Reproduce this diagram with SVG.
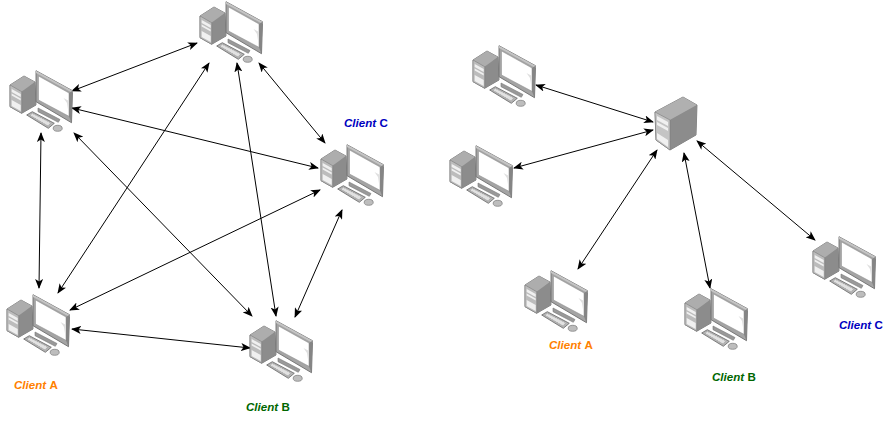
<svg xmlns="http://www.w3.org/2000/svg" width="896" height="424" viewBox="0 0 896 424">
<style>
.c{fill:none;stroke:#000;stroke-width:1;marker-start:url(#a);marker-end:url(#a)}
.l{font:italic bold 11.600px "Liberation Sans",Arial,sans-serif}
.u{font-style:normal}
</style>
<defs>
<marker id="a" viewBox="0 0 10 8" refX="9" refY="4" markerWidth="10" markerHeight="8" markerUnits="userSpaceOnUse" orient="auto-start-reverse"><path d="M0 0L10 4L0 8L2.5 4Z" fill="#000"/></marker>
<g id="pc">
<path d="M-1 16L13 7L24 13L25 36L10.700 44.300L-1 37.700Z" fill="#999" stroke="#6f6f6f" stroke-width=".8"/>
<path d="M-1 16L13 7L24 13L10.700 22.700Z" fill="#adadad"/>
<path d="M10.700 22.700L24 13L25 36L10.700 44.300Z" fill="#8c8c8c"/>
<path d="M-1 16L10.700 22.700V44.300L-1 37.700Z" fill="#bcbcbc" stroke="#777" stroke-width=".5"/>
<path d="M.7 20L9.700 25V28L.7 23ZM.7 24.500L9.700 29.500V31.500L.7 26.500ZM.7 31L9.700 36V42L.7 37Z" fill="#f0f0f0"/>
<path d="M27 39L49 50.500L47.300 53.300L27 42.700Z" fill="#999" stroke="#777" stroke-width=".6"/>
<path d="M25 1.700L61.500 21.700L60.500 53.700L25 32.700Z" fill="#a4a4a4" stroke="#6f6f6f" stroke-width=".9"/>
<path d="M25 1.700L61.500 21.700V24L25 4Z" fill="#c4c4c4"/>
<path d="M58 24L61.500 21.700L60.500 53.700L58 47.500Z" fill="#858585"/>
<path d="M27.500 7L58 24V47.300L27.500 31Z" fill="#fff" stroke="#8a8a8a" stroke-width=".5"/>
<path d="M52.500 29L58 32V47L56 34Z" fill="#e0e0e0"/>
<path d="M15.700 46L21.300 42.700L43.300 54.300L37.300 59.300Z" fill="#b4b4b4" stroke="#666" stroke-width=".8"/>
<path d="M18.500 46L21.500 44.500L40 54L36.800 56.800Z" fill="#e2e2e2" stroke="#7a7a7a" stroke-width=".5" stroke-dasharray="1 1"/>
<ellipse cx="46.700" cy="59.300" rx="4.500" ry="3" fill="#bdbdbd" stroke="#777" stroke-width=".7"/>
</g>
</defs>
<rect width="896" height="424" fill="#fff"/>
<g id="connectors">
<path class="c" d="M72 91L197 43"/>
<path class="c" d="M72 108L318 168"/>
<path class="c" d="M74 133L252 316"/>
<path class="c" d="M41 133L39 288"/>
<path class="c" d="M209 63L58 293"/>
<path class="c" d="M237 63L276 316"/>
<path class="c" d="M259 63L325 143"/>
<path class="c" d="M320 190L70 310"/>
<path class="c" d="M342 210L295 317"/>
<path class="c" d="M72 329L250 348"/>
<path class="c" d="M536 85L653 122"/>
<path class="c" d="M514 168L653 130"/>
<path class="c" d="M657 150L578 269"/>
<path class="c" d="M684 153L710 288"/>
<path class="c" d="M697 141L815 240"/>
</g>
<g id="pc-top"><use href="#pc" x="201" y="0"/></g>
<g id="pc-left"><use href="#pc" x="11" y="69"/></g>
<g id="pc-c"><use href="#pc" x="322" y="143"/></g>
<g id="pc-a"><use href="#pc" x="8" y="293"/></g>
<g id="pc-b"><use href="#pc" x="251" y="319"/></g>
<g id="client-1"><use href="#pc" x="474" y="44"/></g>
<g id="client-2"><use href="#pc" x="451" y="144"/></g>
<g id="client-a"><use href="#pc" x="526" y="269"/></g>
<g id="client-b"><use href="#pc" x="686" y="287"/></g>
<g id="client-c"><use href="#pc" x="814" y="235"/></g>
<g id="server">
<path d="M655 112L683 97L697 105L696 135L670 150L656 140Z" fill="#999" stroke="#6f6f6f" stroke-width=".8"/>
<path d="M655 112L683 97L697 105L670 120Z" fill="#b0b0b0"/>
<path d="M670 120L697 105L696 135L670 150Z" fill="#8c8c8c"/>
<path d="M655 112L670 120V150L656 140Z" fill="#c4c4c4" stroke="#777" stroke-width=".5"/>
<path d="M657 116L668 122V126L657 120ZM657 122L668 128V131L657 125ZM657 133L668 140V147L657 139Z" fill="#f0f0f0"/>
</g>
<g id="labels">
<text class="l" x="344" y="127" fill="#0000c0">Client <tspan class="u">C</tspan></text>
<text class="l" x="14" y="389" fill="#ff8000">Client <tspan class="u">A</tspan></text>
<text class="l" x="246" y="411" fill="#006600">Client <tspan class="u">B</tspan></text>
<text class="l" x="549" y="349" fill="#ff8000">Client <tspan class="u">A</tspan></text>
<text class="l" x="712" y="381" fill="#006600">Client <tspan class="u">B</tspan></text>
<text class="l" x="839" y="329" fill="#0000c0">Client <tspan class="u">C</tspan></text>
</g>
</svg>
